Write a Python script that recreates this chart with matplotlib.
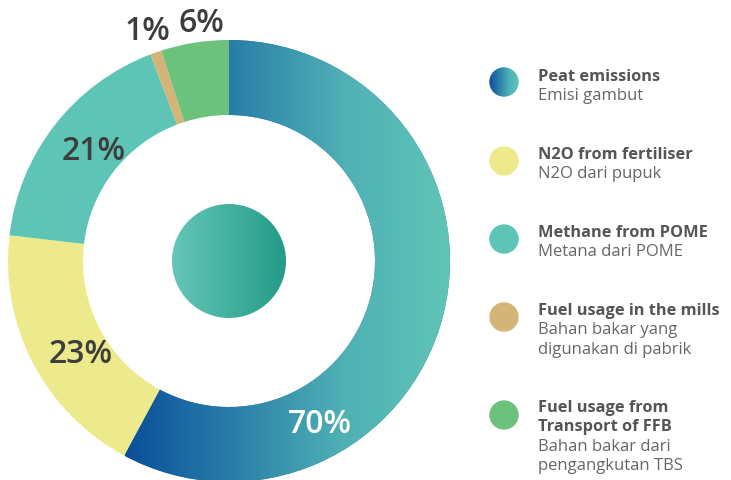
import matplotlib
matplotlib.use("Agg")
import matplotlib.pyplot as plt
import numpy as np
from matplotlib.patches import Circle
from matplotlib.colors import LinearSegmentedColormap

# ---- data ----
categories_en = ["Peat emissions", "N2O from fertiliser", "Methane from POME",
                 "Fuel usage in the mills", "Fuel usage from\nTransport of FFB"]
categories_id = ["Emisi gambut", "N2O dari pupuk", "Metana dari POME",
                 "Bahan bakar yang\ndigunakan di pabrik", "Bahan bakar dari\npengangkutan TBS"]
values = [70, 23, 21, 1, 6]
pct_labels = ["70%", "23%", "21%", "1%", "6%"]
colors = ["#2f86a9", "#ecea8a", "#5ec4b6", "#d4b477", "#6cc27c"]

FONT = ["Open Sans", "DejaVu Sans"]
W, H = 731, 481
fig = plt.figure(figsize=(W / 100, H / 100), dpi=100)
ax = fig.add_axes([0, 0, 1, 1])

cx, cy, R, width = 229, 481 - 262, 221, 75
wedges, _ = ax.pie(values, colors=colors, startangle=90, counterclock=False,
                   radius=R, center=(cx, cy),
                   wedgeprops=dict(width=width, linewidth=0))

blue_cmap = LinearSegmentedColormap.from_list(
    "blue", ["#0a4e9b", "#2a7fa8", "#4fb0b5", "#60c5b7"])
grad = np.linspace(0, 1, 256).reshape(1, -1)
im = ax.imshow(grad, cmap=blue_cmap, extent=(125, 452, cy - R, cy + R),
               aspect="auto", interpolation="bicubic", zorder=2)
im.set_clip_path(wedges[0])

# center circle
cc = Circle((cx, cy), 57, facecolor="none", edgecolor="none")
ax.add_patch(cc)
teal_cmap = LinearSegmentedColormap.from_list("teal", ["#64c6b8", "#249c87"])
im2 = ax.imshow(grad, cmap=teal_cmap, extent=(cx - 57, cx + 57, cy - 57, cy + 57),
                aspect="auto", interpolation="bicubic", zorder=2)
im2.set_clip_path(cc)

# percent labels (pixel positions from top)
label_pos = [(320, 425), (81, 355), (94, 152), (148, 31), (201, 24)]
label_colors = ["white", "#3d3d3d", "#3d3d3d", "#3d3d3d", "#3d3d3d"]
for t, (x, y), c in zip(pct_labels, label_pos, label_colors):
    ax.text(x, H - y, t, ha="center", va="center", fontsize=23,
            fontweight="semibold", color=c, family=FONT, zorder=5)

# legend
leg_circle_y = [83, 162, 240, 318, 416]
leg_text_y = [77, 155, 233, 311, 408]
line_h = 19.5
for i, (en, idn) in enumerate(zip(categories_en, categories_id)):
    ycirc = H - leg_circle_y[i]
    circ = Circle((504, ycirc), 14.7, facecolor=colors[i] if i else "none",
                  edgecolor="none", zorder=3)
    ax.add_patch(circ)
    if i == 0:
        im3 = ax.imshow(grad, cmap=blue_cmap,
                        extent=(504 - 15, 504 + 15, ycirc - 15, ycirc + 15),
                        aspect="auto", interpolation="bicubic", zorder=3)
        im3.set_clip_path(circ)
    y = leg_text_y[i]
    for line in en.split("\n"):
        ax.text(538, H - y, line, ha="left", va="center", fontsize=11.8,
                fontweight="bold", color="#555555", family=FONT)
        y += line_h
    for line in idn.split("\n"):
        ax.text(538, H - y, line, ha="left", va="center", fontsize=12,
                color="#666666", family=FONT)
        y += line_h

ax.set_xlim(0, W)
ax.set_ylim(0, H)
ax.set_aspect("auto")
ax.axis("off")
fig.savefig("out.png", dpi=100, facecolor="white")
